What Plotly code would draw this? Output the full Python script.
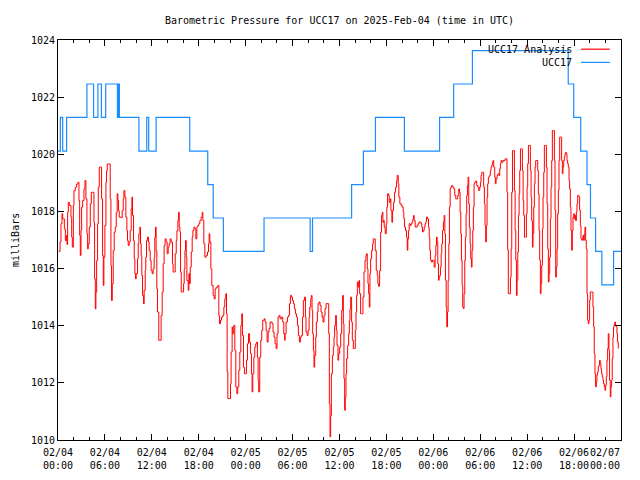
import pandas as pd
import plotly.graph_objects as go

START = pd.Timestamp("2025-02-04 00:00")
END = pd.Timestamp("2025-02-07 00:00")

# ---- UCC17 Analysis (red): hours since start, pressure (mb)
analysis_hours = [
    0.09, 0.26, 0.38, 0.51, 0.60, 0.81, 0.94, 1.06, 1.15, 1.23, 1.32, 1.45, 1.66, 1.75, 1.83, 1.96,
    2.04, 2.21, 2.38, 2.55, 2.68, 2.77, 2.85, 2.94, 3.02, 3.15, 3.32, 3.45, 3.57, 3.70, 3.79, 3.87,
    4.00, 4.13, 4.26, 4.47, 4.60, 4.68, 4.77, 4.85, 4.94, 5.06, 5.15, 5.28, 5.45, 5.57, 5.70, 5.79,
    5.87, 6.00, 6.13, 6.21, 6.30, 6.55, 6.68, 6.77, 6.85, 6.94, 7.06, 7.19, 7.32, 7.45, 7.57, 7.66,
    7.74, 7.83, 8.13, 8.21, 8.34, 8.43, 8.55, 8.68, 8.81, 8.89, 8.98, 9.11, 9.23, 9.36, 9.45, 9.53,
    9.66, 9.75, 9.83, 9.92, 10.00, 10.17, 10.26, 10.34, 10.47, 10.55, 10.64, 10.72, 10.81, 10.94,
    11.02, 11.15, 11.23, 11.32, 11.45, 11.57, 11.66, 11.79, 11.91, 12.04, 12.17, 12.30, 12.38,
    12.47, 12.55, 12.64, 12.72, 12.89, 13.06, 13.19, 13.32, 13.45, 13.57, 13.70, 13.83, 13.96,
    14.09, 14.21, 14.34, 14.47, 14.64, 14.72,
    14.87, 14.99, 15.12, 15.21, 15.33, 15.42, 15.50, 15.59, 15.67, 15.76, 15.97, 16.06, 16.14,
    16.23, 16.31, 16.40, 16.48, 16.65, 16.74, 16.82, 16.91, 17.04, 17.16, 17.25, 17.38, 17.50,
    17.63, 17.76, 17.89, 18.01, 18.14, 18.31, 18.44, 18.53, 18.65, 18.78, 18.95, 19.12, 19.25,
    19.33, 19.42, 19.55, 19.67, 19.84, 19.97, 20.10, 20.23, 20.44, 20.57, 20.65, 20.78, 20.91,
    21.08, 21.21, 21.33, 21.46, 21.55, 21.63, 21.72, 21.97, 22.06, 22.14, 22.27, 22.35, 22.48,
    22.61, 22.74, 22.87, 22.99, 23.12, 23.25, 23.38, 23.50, 23.59, 23.72, 23.84, 24.01, 24.10,
    24.23, 24.36, 24.48, 24.61, 24.74, 24.82, 24.91, 25.04, 25.16, 25.29, 25.42, 25.50, 25.59,
    25.67, 25.80, 25.93, 26.06, 26.18, 26.36, 26.48, 26.61, 26.74, 26.87, 26.99, 27.12, 27.25,
    27.38, 27.50, 27.63, 27.76, 27.89, 28.01, 28.14, 28.27, 28.40, 28.57, 28.74, 28.87, 28.99,
    29.04, 29.17, 29.34, 29.47, 29.60, 29.72, 29.85, 29.98, 30.11, 30.23, 30.36, 30.49, 30.62,
    30.74, 30.87, 31.00, 31.13, 31.26, 31.38, 31.51, 31.64, 31.72, 31.85, 31.98, 32.11, 32.19,
    32.32, 32.40, 32.49, 32.57, 32.66, 32.74, 32.83, 32.96, 33.04, 33.17, 33.26, 33.38, 33.51,
    33.64, 33.77, 33.89, 34.02, 34.15, 34.28, 34.53, 34.62, 34.70, 34.79, 34.87, 34.96, 35.09,
    35.21, 35.30, 35.38, 35.51, 35.60, 35.68, 35.81, 35.89, 36.02, 36.15, 36.28, 36.40, 36.49,
    36.57, 36.66, 36.74, 36.83, 36.91, 37.04, 37.17, 37.26, 37.34, 37.43, 37.55, 37.64, 37.77,
    37.94, 38.02, 38.11, 38.19, 38.28, 38.40, 38.49, 38.57, 38.70, 38.91, 39.00, 39.13, 39.26,
    39.38, 39.47, 39.55, 39.64, 39.72, 39.81, 39.89, 39.98, 40.11, 40.23, 40.32, 40.45, 40.57,
    40.70, 40.83, 40.91, 41.00, 41.13, 41.26, 41.38, 41.47, 41.55, 41.64, 41.72, 41.85, 41.98,
    42.06, 42.15, 42.28, 42.36, 42.49, 42.57, 42.70, 42.79, 42.91, 43.04, 43.17, 43.30,
    43.38, 43.51, 43.59, 43.72, 43.89, 44.02, 44.15, 44.23, 44.32, 44.44, 44.57, 44.66, 44.74,
    44.83, 44.91, 45.04, 45.17, 45.29, 45.38, 45.47, 45.55, 45.68, 45.81, 45.93, 46.06, 46.19,
    46.32, 46.44, 46.53, 46.61, 46.70, 46.83, 46.95, 47.04, 47.12, 47.25, 47.38, 47.47, 47.55,
    47.64, 47.76, 47.89, 48.02, 48.10, 48.23, 48.32, 48.40, 48.49, 48.57, 48.66, 48.74, 48.83,
    48.91, 49.00, 49.08, 49.17, 49.29, 49.38, 49.47, 49.55, 49.64, 49.72, 49.81, 49.89, 49.98,
    50.06, 50.15, 50.23, 50.36, 50.49, 50.61, 50.74, 50.87, 51.00, 51.12, 51.25, 51.34, 51.42,
    51.51, 51.59, 51.68, 51.76, 51.85, 51.93, 52.02, 52.10, 52.19, 52.27, 52.36, 52.44, 52.53,
    52.61, 52.70, 52.78, 52.87, 52.95, 53.04, 53.12, 53.21, 53.29, 53.42, 53.55, 53.68, 53.81,
    53.93, 54.02, 54.10, 54.19, 54.32, 54.44, 54.53, 54.61, 54.70, 54.78, 54.87, 54.95, 55.04,
    55.17, 55.29, 55.38, 55.47, 55.55, 55.64, 55.72, 55.85, 55.93, 56.02, 56.15, 56.27, 56.40,
    56.49, 56.57, 56.66, 56.78, 56.91, 57.04, 57.17, 57.30, 57.42, 57.51, 57.59,
    57.86, 57.95, 58.03, 58.12, 58.29, 58.37, 58.46, 58.54, 58.63, 58.71, 58.80, 58.88, 58.97,
    59.05, 59.14, 59.31, 59.39, 59.48, 59.56, 59.65, 59.82, 59.90, 59.99, 60.07, 60.16, 60.33,
    60.41, 60.50, 60.58, 60.67, 60.75, 60.84, 60.92, 61.01, 61.09, 61.26, 61.35, 61.43, 61.52,
    61.60, 61.69, 61.77, 61.86, 61.95, 62.03, 62.12, 62.20, 62.37, 62.46, 62.54, 62.63, 62.71,
    62.80, 62.88, 62.97, 63.05, 63.14, 63.22, 63.39, 63.48, 63.56, 63.65, 63.73, 63.82, 63.90,
    63.99, 64.07, 64.16, 64.33, 64.41, 64.50, 64.58, 64.67, 64.75, 64.84, 64.92, 65.01, 65.09,
    65.18, 65.26, 65.35, 65.43, 65.52, 65.60, 65.69, 65.77, 65.86, 65.95, 66.03, 66.12, 66.20,
    66.29, 66.37, 66.46, 66.54, 66.63, 66.71, 66.80, 66.88, 66.97, 67.05, 67.14, 67.22, 67.31,
    67.39, 67.48, 67.56, 67.65, 67.73, 67.82, 67.90, 67.99, 68.07, 68.33, 68.41, 68.50, 68.58,
    68.67, 68.75, 68.84, 68.92, 69.01, 69.09, 69.18, 69.26, 69.35, 69.43, 69.52, 69.60, 69.69,
    69.77, 69.86, 69.95, 70.03, 70.12, 70.20, 70.29, 70.37, 70.46, 70.54, 70.63, 70.71, 70.80,
    70.88, 70.97, 71.05, 71.14, 71.22, 71.31, 71.39, 71.48, 71.56, 71.65,
]
analysis_mb = [
    1016.60, 1016.93, 1017.57, 1017.92, 1017.74, 1017.39, 1016.98, 1017.16, 1016.84, 1017.97, 1018.32, 1018.21, 1017.80, 1017.10, 1016.75, 1018.21,
    1018.73, 1018.85, 1018.96, 1019.02, 1018.38, 1017.16, 1016.46, 1017.33, 1018.15, 1018.38, 1018.79, 1019.08, 1018.44, 1017.22, 1016.69, 1016.87,
    1017.45, 1018.27, 1018.67, 1018.67, 1017.62, 1015.64, 1014.59, 1015.18, 1016.28, 1017.57, 1018.85, 1019.55, 1019.55, 1018.44, 1016.46, 1015.41,
    1016.40, 1017.51, 1019.02, 1019.43, 1019.66, 1019.66, 1018.44, 1016.11, 1014.88, 1015.47, 1016.63, 1017.27, 1017.45, 1017.97, 1018.62, 1018.38,
    1018.03, 1017.80, 1017.78, 1018.03, 1018.44, 1018.73, 1018.50, 1017.80, 1017.33, 1016.98, 1016.81, 1016.93, 1017.33, 1018.09, 1018.50, 1017.86,
    1016.98, 1016.34, 1015.82, 1015.64, 1015.82, 1016.34, 1016.87, 1017.22, 1017.45, 1016.87, 1016.46, 1015.76, 1015.06, 1014.77,
    1015.24, 1015.93, 1016.40, 1016.98, 1017.10, 1016.93, 1016.63, 1016.28, 1015.93, 1015.82, 1015.99, 1016.40, 1017.10,
    1017.45, 1016.63, 1015.29, 1014.48, 1013.49, 1013.49, 1014.36, 1015.18, 1016.17, 1016.81, 1017.04, 1016.93, 1016.52,
    1016.75, 1016.87, 1017.04, 1016.93, 1016.17, 1015.88,
    1015.88, 1016.52, 1016.98, 1017.33, 1017.68, 1017.97, 1017.45, 1017.27, 1015.88, 1015.18, 1015.18, 1015.47, 1015.99,
    1016.63, 1016.98, 1016.40, 1015.58, 1015.24, 1015.82, 1015.47, 1016.05, 1016.58, 1017.10, 1017.33, 1017.45, 1017.39,
    1017.04, 1017.45, 1017.51, 1017.57, 1017.68, 1017.80, 1017.97, 1017.68, 1016.87, 1016.40, 1016.46, 1016.58, 1016.87,
    1017.22, 1016.93, 1015.99, 1015.41, 1015.06, 1014.94, 1015.29, 1015.35, 1015.41, 1014.36, 1014.07, 1014.19, 1014.30,
    1014.36, 1014.65, 1014.94, 1015.12, 1014.42, 1012.38, 1011.45, 1011.45, 1011.97, 1013.08, 1013.95, 1013.72, 1014.01,
    1013.14, 1011.86, 1011.62, 1011.86, 1012.44, 1013.08, 1014.01, 1014.42, 1013.66, 1012.55, 1012.32, 1012.32, 1012.79,
    1013.37, 1013.72, 1013.43, 1013.02, 1012.32, 1011.68, 1012.32, 1012.90, 1013.25, 1013.37, 1013.43, 1012.90, 1012.09,
    1011.68, 1012.90, 1013.49, 1013.84, 1014.19, 1014.24, 1014.13, 1013.84, 1013.43, 1013.78, 1013.90, 1014.13, 1014.13,
    1014.07, 1013.78, 1013.60, 1013.37, 1013.20, 1013.72, 1014.30, 1014.36, 1014.24, 1014.30, 1014.13, 1013.72, 1013.49,
    1013.72, 1014.13, 1014.30, 1014.36, 1014.77, 1015.06, 1015.00, 1014.88, 1014.77, 1014.59, 1014.42, 1014.30, 1014.01,
    1013.66, 1013.43, 1013.60, 1013.66, 1014.30, 1014.88, 1015.00, 1014.30, 1013.78, 1013.66, 1013.84, 1014.30, 1014.65,
    1014.94, 1015.06, 1014.54, 1013.72, 1013.14, 1012.55, 1012.96, 1013.60, 1014.13, 1014.48, 1014.77, 1014.83, 1014.71,
    1014.48, 1014.30, 1014.13, 1014.36, 1014.59, 1014.77, 1014.77, 1013.72, 1011.27, 1010.11, 1010.86, 1012.32, 1012.96,
    1013.25, 1013.60, 1014.01, 1014.36, 1013.84, 1013.31, 1012.79, 1013.02, 1013.25, 1013.72, 1014.54, 1015.06, 1014.07,
    1012.15, 1011.04, 1011.51, 1012.32, 1012.85, 1013.31, 1013.72, 1014.19, 1014.59, 1015.00, 1014.13, 1013.49, 1013.20,
    1013.20, 1013.84, 1014.48, 1015.06, 1015.53, 1015.35, 1015.58, 1015.12, 1014.42, 1014.42, 1015.00, 1015.88, 1016.28,
    1016.46, 1016.52, 1015.99, 1015.47, 1015.12, 1014.65, 1015.82, 1016.34, 1016.63, 1016.87, 1017.04, 1017.04, 1016.63,
    1015.93, 1015.76, 1015.47, 1015.38, 1015.93, 1017.27, 1017.86, 1017.97, 1017.62, 1017.68, 1017.45, 1017.22, 1017.57,
    1018.15, 1018.62, 1018.56, 1018.32, 1018.44, 1018.03, 1017.62, 1018.03, 1018.32, 1018.67, 1018.85, 1019.08,
    1019.26, 1018.97, 1018.50, 1018.27, 1018.21, 1018.15, 1017.98, 1017.74, 1017.45, 1017.33, 1017.10, 1016.64, 1017.04,
    1017.33, 1017.57, 1017.51, 1017.57, 1017.63, 1017.74, 1017.86, 1017.68, 1017.45, 1017.45, 1017.51, 1017.57, 1017.63,
    1017.63, 1017.57, 1017.45, 1017.28, 1017.33, 1017.45, 1017.57, 1017.63, 1017.80, 1017.74, 1017.45, 1017.10, 1016.64,
    1016.29, 1016.23, 1016.29, 1016.29, 1016.05, 1016.46, 1016.81, 1017.10, 1016.93, 1016.17, 1015.59, 1015.70, 1015.76,
    1016.05, 1016.52, 1016.87, 1017.33, 1017.63, 1017.86, 1017.22, 1015.59, 1014.65, 1013.96, 1014.48, 1015.59, 1016.87,
    1018.15, 1018.79, 1018.85, 1018.91, 1018.85, 1018.79, 1018.56, 1018.44, 1018.44, 1018.56, 1018.79, 1018.67, 1017.98,
    1017.22, 1016.29, 1015.41, 1014.65, 1014.60, 1015.12, 1016.29, 1017.10, 1017.92, 1018.56, 1018.91, 1019.20, 1018.27,
    1017.45, 1016.87, 1016.35, 1016.05, 1016.64, 1017.33, 1018.15, 1018.97, 1019.02, 1019.06, 1018.91, 1018.85, 1018.73,
    1018.85, 1019.02, 1019.26, 1019.37, 1019.37, 1018.85, 1018.27, 1017.51, 1016.93, 1017.51, 1018.50, 1018.97, 1019.20,
    1019.26, 1019.43, 1019.55, 1019.61, 1019.72, 1019.78, 1019.55, 1019.20, 1018.97, 1019.14, 1019.26, 1019.32, 1019.26,
    1019.49, 1019.67, 1019.78, 1019.72, 1019.78, 1019.78, 1019.84, 1019.84, 1018.67, 1016.64, 1015.12,
    1015.70, 1016.69, 1018.67, 1020.13, 1020.13, 1018.73, 1017.33, 1016.29, 1015.06, 1015.59, 1016.58, 1017.86, 1018.62,
    1019.43, 1020.19, 1020.19, 1019.43, 1018.38, 1017.86, 1017.10, 1017.10, 1017.92, 1018.85, 1019.67, 1020.31, 1020.31,
    1019.43, 1018.50, 1017.68, 1016.75, 1017.22, 1018.15, 1018.97, 1019.55, 1019.78, 1019.78, 1019.43, 1018.62, 1017.33,
    1016.29, 1015.12, 1015.47, 1016.11, 1017.39, 1018.50, 1019.37, 1020.31, 1020.31, 1019.55, 1018.27, 1016.69, 1015.53,
    1015.82, 1016.40, 1017.74, 1018.85, 1019.78, 1020.83, 1020.83, 1019.78, 1018.04, 1015.70, 1016.05, 1016.69, 1017.92,
    1018.73, 1019.78, 1020.60, 1020.60, 1019.78, 1019.32, 1019.55, 1019.78, 1019.90, 1020.02, 1020.07, 1020.02, 1019.78,
    1019.67, 1019.55, 1019.08, 1018.79, 1018.15, 1017.33, 1016.64, 1017.33, 1017.80, 1017.92, 1017.74, 1017.86, 1017.68,
    1017.98, 1018.27, 1018.56, 1018.56, 1018.50, 1018.04, 1017.51, 1017.04, 1016.99, 1017.04, 1017.16, 1016.99, 1017.22,
    1017.45, 1016.99, 1016.69, 1015.12, 1014.19, 1014.07, 1014.19, 1014.89, 1015.18, 1015.18, 1014.65, 1013.96, 1013.02,
    1012.32, 1011.86, 1012.03, 1012.27, 1012.38, 1012.56, 1012.62, 1012.79, 1012.67, 1012.50, 1012.32, 1012.21, 1012.09,
    1011.97, 1011.86, 1011.74, 1011.92, 1012.21, 1012.79, 1013.20, 1013.72, 1013.14, 1012.09, 1011.51, 1011.86, 1012.09,
    1012.85, 1013.60, 1013.96, 1014.07, 1014.13, 1014.01, 1013.96, 1013.72, 1013.43, 1013.20,
]

# ---- UCC17 observed (blue): change times (hours) and step levels (mb)
station_hours = [
    0.00, 0.30, 0.60, 1.10, 3.70, 4.55, 5.10, 5.55, 6.10, 7.60, 7.72, 7.85,
    10.35, 11.35, 11.60, 12.55, 16.85, 19.15, 19.85, 21.15, 26.35, 32.25, 32.55,
    37.55, 39.05, 40.60, 44.30, 48.80, 50.60, 53.00, 65.25, 65.95, 66.85, 67.65,
    68.10, 68.75, 69.55, 71.05, 72.00,
]
station_mb = [
    1020.11, 1021.29, 1020.11, 1021.29, 1022.46, 1021.29, 1022.46, 1021.29, 1022.46, 1021.29, 1022.46, 1021.29,
    1020.11, 1021.29, 1020.11, 1021.29, 1020.11, 1018.94, 1017.77, 1016.60, 1017.77, 1016.60, 1017.77,
    1018.94, 1020.11, 1021.29, 1020.11, 1021.29, 1022.46, 1023.63, 1022.46, 1021.29, 1020.11, 1018.94,
    1017.77, 1016.60, 1015.43, 1016.60, 1016.60,
]

series_names = ["UCC17 Analysis", "UCC17"]
series_colors = ["#ff0000", "#1a8cff"]
y_ticks = [1010, 1012, 1014, 1016, 1018, 1020, 1022, 1024]
x_tick_hours = [0, 6, 12, 18, 24, 30, 36, 42, 48, 54, 60, 66, 72]

FONT = "DejaVu Sans Mono, Liberation Mono, monospace"


def to_time(hours):
    return START + pd.to_timedelta(pd.Series(hours, dtype=float), unit="h")


fig = go.Figure()
fig.add_trace(go.Scatter(
    x=to_time(analysis_hours), y=analysis_mb, mode="lines",
    line=dict(color=series_colors[0], width=1, shape="hv"),
    name=series_names[0], showlegend=False,
))
fig.add_trace(go.Scatter(
    x=to_time(station_hours), y=station_mb, mode="lines",
    line=dict(color=series_colors[1], width=1.2, shape="hv"),
    name=series_names[1], showlegend=False,
))

tick_times = list(to_time(x_tick_hours))
tick_labels = [t.strftime("%m/%d") + "<br>" + t.strftime("%H:%M") for t in tick_times]
# the final label is right-aligned to the axis end (as in the original), so it is drawn separately
axis_tick_text = tick_labels[:-1] + [""]

fig.update_xaxes(
    range=[START, END], tickvals=tick_times, ticktext=axis_tick_text, tickangle=0,
    ticks="inside", ticklen=6, tickwidth=1, tickcolor="black",
    minor=dict(dtick=2 * 3600 * 1000, ticks="inside", ticklen=3, tickcolor="black", tickwidth=1),
    showline=True, linecolor="black", linewidth=1, mirror="ticks",
    showgrid=False, zeroline=False, automargin=False, ticklabelstandoff=3,
    tickfont=dict(family=FONT, size=10, color="black"),
)
fig.update_yaxes(
    range=[1010, 1024], tickvals=y_ticks, ticktext=[str(v) for v in y_ticks],
    ticks="inside", ticklen=6, tickwidth=1, tickcolor="black",
    showline=True, linecolor="black", linewidth=1, mirror="ticks",
    showgrid=False, zeroline=False, automargin=False,
    tickfont=dict(family=FONT, size=10, color="black"),
)

annotations = [
    dict(text="milliBars", xref="paper", yref="paper", x=-0.0764, y=0.5,
         xanchor="center", yanchor="middle",
         textangle=-90, showarrow=False, font=dict(family=FONT, size=10, color="black")),
    dict(text=tick_labels[-1], xref="paper", yref="paper", x=1, y=0,
         xanchor="right", yanchor="top", yshift=-6, showarrow=False, borderpad=0,
         font=dict(family=FONT, size=10, color="black")),
]
shapes = []
legend_y = [0.977, 0.944]
for name, color, ly in zip(series_names, series_colors, legend_y):
    annotations.append(dict(text=name, xref="paper", yref="paper", x=0.9165, y=ly,
                            xanchor="right", yanchor="middle", showarrow=False,
                            font=dict(family=FONT, size=10, color="black")))
    shapes.append(dict(type="line", xref="paper", yref="paper", x0=0.929, x1=0.98,
                       y0=ly, y1=ly, line=dict(color=color, width=1.2)))

# the page body adds an 8px offset, so the figure is sized to fit the 640x480 window
fig.update_layout(
    width=632, height=464,
    margin=dict(l=50, r=19, t=32, b=32),
    paper_bgcolor="white", plot_bgcolor="white",
    title=dict(text="Barometric Pressure for UCC17 on 2025-Feb-04 (time in UTC)",
               x=0.5, xref="paper", y=1 - 12 / 464, yanchor="middle",
               font=dict(family=FONT, size=10, color="black")),
    annotations=annotations, shapes=shapes,
    showlegend=False,
)

fig.write_html("out.html")
